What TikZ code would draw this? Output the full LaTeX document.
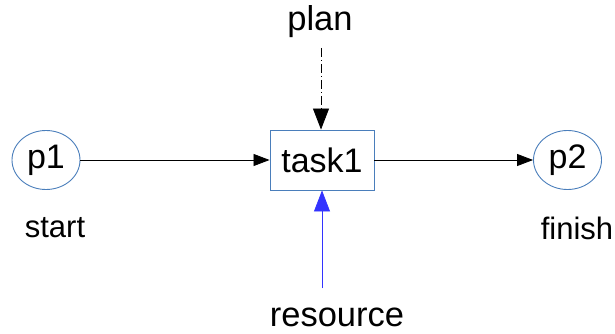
\documentclass[tikz,border=0pt]{standalone}
\usepackage{fontspec}
\setmainfont{Liberation Sans}
\usetikzlibrary{arrows.meta,shapes.geometric}
\begin{document}
\begin{tikzpicture}[x=1pt,y=-1pt,
  place/.style={draw=placeblue,line width=0.9pt,ellipse,minimum width=68pt,minimum height=59pt,inner sep=0pt,font=\fontsize{34}{38}\selectfont},
  trans/.style={draw=placeblue,line width=0.9pt,rectangle,minimum width=104pt,minimum height=60pt,inner sep=0pt,font=\fontsize{34}{38}\selectfont},
  lbl/.style={inner sep=0pt,font=\fontsize{34.5}{38}\selectfont},
  sublbl/.style={inner sep=0pt,font=\fontsize{31}{36}\selectfont},
  arc/.style={line width=0.8pt,-{Triangle[length=16pt,width=12pt]}},
  bigarc/.style={line width=0.8pt,-{Triangle[length=21pt,width=16pt]}}]
\definecolor{placeblue}{HTML}{4A7EBB}
\definecolor{resblue}{HTML}{3333FF}
\useasboundingbox (0,0) rectangle (615,334);
\node[place] (p1) at (46,160) {p1};
\node[trans] (t1) at (322,160) {task1};
\node[place] (p2) at (567.5,160) {p2};
\node[sublbl] (start) at (55,228) {start};
\node[sublbl] (finish) at (577,228) {finish};
\node[lbl] (plan) at (320,22) {plan};
\node[lbl] (res) at (337,317) {resource};
\coordinate (planend) at (321,48);
\coordinate (resend) at (322,288);
\draw[arc] (p1) -- (t1);
\draw[arc] (t1) -- (p2);
\draw[bigarc,dash pattern=on 9pt off 3pt on 1pt off 3pt] (planend) -- (t1.north -| planend);
\draw[bigarc,draw=resblue,fill=resblue,line width=0.7pt] (resend) -- (t1.south -| resend);
\end{tikzpicture}
\end{document}
